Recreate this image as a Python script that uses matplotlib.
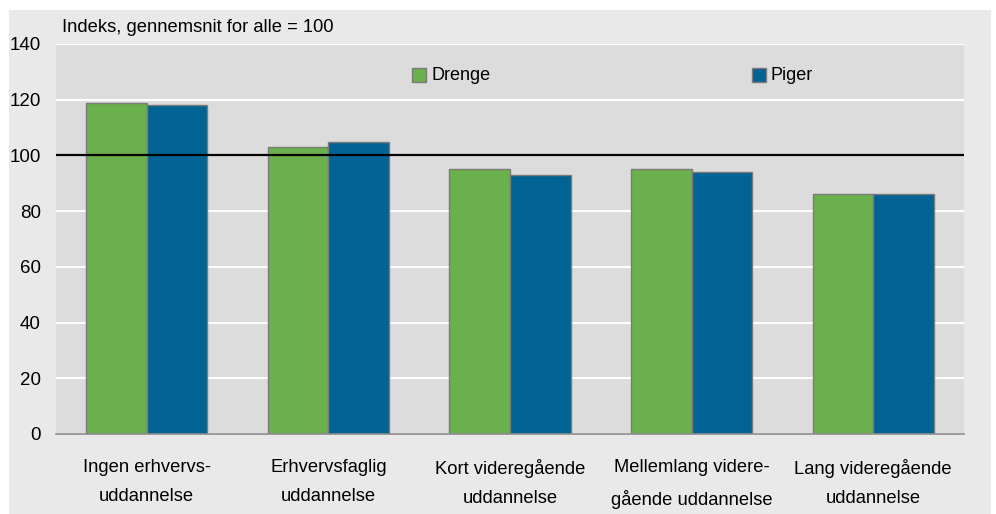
import numpy as np
import matplotlib
matplotlib.use("Agg")
from matplotlib import pyplot as plt
from matplotlib.patches import Rectangle

plt.rcParams['font.family'] = ['Liberation Sans', 'DejaVu Sans']

categories = ["Ingen erhvervs-\nuddannelse", "Erhvervsfaglig\nuddannelse",
              "Kort videregående\nuddannelse", "Mellemlang videre-\ngående uddannelse",
              "Lang videregående\nuddannelse"]
drenge = [119, 103, 95, 95, 86]
piger = [118, 105, 93, 94, 86]
yticks = [0, 20, 40, 60, 80, 100, 120, 140]

green = '#6ab04c'
blue = '#006394'
edge = '#7a7a7a'

W, H = 996, 514
fig = plt.figure(figsize=(W / 100, H / 100), dpi=100)
fig.patch.set_facecolor('white')
# outer light panel
fig.patches.append(Rectangle((9 / W, 0), (991 - 9) / W, (H - 10) / H,
                             transform=fig.transFigure, facecolor='#e9e9e9',
                             edgecolor='none', zorder=-5))

ax = fig.add_axes([56 / W, (H - 434) / H, (964 - 56) / W, (434 - 44) / H])
ax.set_facecolor('#dcdcdc')

x = np.arange(len(categories))
bw = 1 / 3
ax.bar(x - bw / 2, drenge, width=bw, color=green, edgecolor=edge, linewidth=1,
       label='Drenge', zorder=3)
ax.bar(x + bw / 2, piger, width=bw, color=blue, edgecolor=edge, linewidth=1,
       label='Piger', zorder=3)

ax.set_xlim(-0.5, len(categories) - 0.5)
ax.set_ylim(0, 140)
ax.set_yticks(yticks)
ax.yaxis.grid(True, color='white', linewidth=1.5, zorder=1)
ax.set_axisbelow(True)
ax.axhline(100, color='black', linewidth=1.6, zorder=4)

for s in ['top', 'right', 'left']:
    ax.spines[s].set_visible(False)
ax.spines['bottom'].set_color('#8c8c8c')
ax.spines['bottom'].set_linewidth(1.2)
ax.spines['bottom'].set_zorder(5)

ax.set_xticks(x)
ax.set_xticklabels(categories, fontsize=13.2, linespacing=1.95)
ax.tick_params(axis='x', length=0, pad=18)
ax.tick_params(axis='y', length=0, pad=11, labelsize=13.5)

fig.text(62 / W, 1 - 28 / H, 'Indeks, gennemsnit for alle = 100', fontsize=13.2,
         va='center', ha='left')

# legend entries placed individually
for label, col, xp in [('Drenge', green, 412), ('Piger', blue, 752)]:
    fig.patches.append(Rectangle((xp / W, 1 - 82 / H), 14 / W, 14 / H,
                                 transform=fig.transFigure, facecolor=col,
                                 edgecolor=edge, linewidth=1, zorder=6))
    fig.text((xp + 19) / W, 1 - 75 / H, label, fontsize=13, va='center', ha='left')

fig.savefig('out.png', dpi=100)
